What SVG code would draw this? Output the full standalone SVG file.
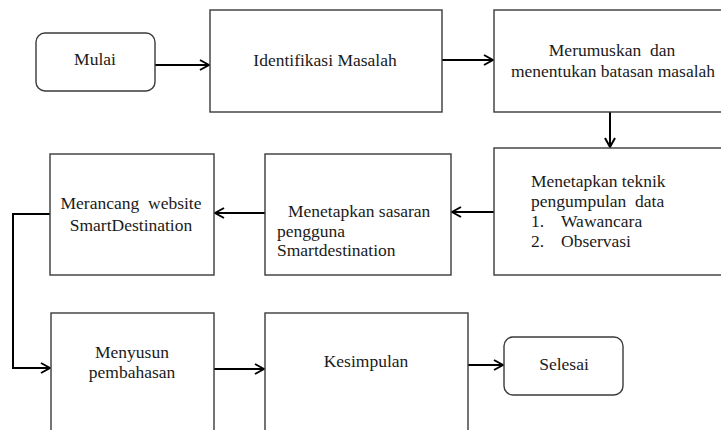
<svg xmlns="http://www.w3.org/2000/svg" width="721" height="430" viewBox="0 0 721 430">
<defs>
<style>
.box{fill:#fff;stroke:#3a3a3a;stroke-width:1.4}
.term{fill:#fff;stroke:#3a3a3a;stroke-width:1.4}
.conn{fill:none;stroke:#000;stroke-width:2}
</style>
<marker id="arr" viewBox="0 0 12 12" refX="11" refY="6" markerWidth="12" markerHeight="12" markerUnits="userSpaceOnUse" orient="auto">
<path d="M2,1 L11,6 L2,11" fill="none" stroke="#000" stroke-width="2"/>
</marker>
</defs>
<rect width="721" height="430" fill="#fff"/>
<g id="connectors">
<line class="conn" x1="155" y1="65" x2="209" y2="65" marker-end="url(#arr)"/>
<line class="conn" x1="442" y1="60" x2="493" y2="60" marker-end="url(#arr)"/>
<line class="conn" x1="610" y1="112" x2="610" y2="147" marker-end="url(#arr)"/>
<line class="conn" x1="494" y1="212" x2="452" y2="212" marker-end="url(#arr)"/>
<line class="conn" x1="265" y1="213" x2="215" y2="213" marker-end="url(#arr)"/>
<polyline class="conn" points="50,214 13,214 13,368 50,368" marker-end="url(#arr)"/>
<line class="conn" x1="214" y1="369" x2="264" y2="369" marker-end="url(#arr)"/>
<line class="conn" x1="468" y1="365" x2="503" y2="365" marker-end="url(#arr)"/>
</g>
<g id="mulai">
<rect class="term" x="36" y="33" width="119" height="58" rx="9"/>
<text x="95" y="65" font-family="Liberation Serif" font-size="17.5" fill="#1a1a1a" text-anchor="middle">Mulai</text>
</g>
<g id="identifikasi">
<rect class="box" x="210" y="10" width="232" height="102"/>
<text x="325" y="66" font-family="Liberation Serif" font-size="17.5" fill="#1a1a1a" text-anchor="middle">Identifikasi Masalah</text>
</g>
<g id="merumuskan">
<rect class="box" x="494" y="10" width="240" height="102"/>
<text x="612" y="56" font-family="Liberation Serif" font-size="17.5" fill="#1a1a1a" text-anchor="middle" xml:space="preserve">Merumuskan  dan</text>
<text x="613" y="77" font-family="Liberation Serif" font-size="17.5" fill="#1a1a1a" text-anchor="middle">menentukan batasan masalah</text>
</g>
<g id="teknik">
<rect class="box" x="494" y="148" width="240" height="127"/>
<text x="531" y="187" font-family="Liberation Serif" font-size="17.5" fill="#1a1a1a">Menetapkan teknik</text>
<text x="531" y="207" font-family="Liberation Serif" font-size="17.5" fill="#1a1a1a" xml:space="preserve">pengumpulan  data</text>
<text x="531" y="227" font-family="Liberation Serif" font-size="17.5" fill="#1a1a1a">1.</text>
<text x="561" y="227" font-family="Liberation Serif" font-size="17.5" fill="#1a1a1a">Wawancara</text>
<text x="531" y="247" font-family="Liberation Serif" font-size="17.5" fill="#1a1a1a">2.</text>
<text x="561" y="247" font-family="Liberation Serif" font-size="17.5" fill="#1a1a1a">Observasi</text>
</g>
<g id="sasaran">
<rect class="box" x="265" y="154" width="186" height="121"/>
<text x="288" y="217" font-family="Liberation Serif" font-size="17.5" fill="#1a1a1a">Menetapkan sasaran</text>
<text x="277" y="237" font-family="Liberation Serif" font-size="17.5" fill="#1a1a1a">pengguna</text>
<text x="277" y="256" font-family="Liberation Serif" font-size="17.5" fill="#1a1a1a">Smartdestination</text>
</g>
<g id="merancang">
<rect class="box" x="50" y="154" width="164" height="121"/>
<text x="131" y="209" font-family="Liberation Serif" font-size="17.5" fill="#1a1a1a" text-anchor="middle" xml:space="preserve">Merancang  website</text>
<text x="131" y="231" font-family="Liberation Serif" font-size="17.5" fill="#1a1a1a" text-anchor="middle">SmartDestination</text>
</g>
<g id="menyusun">
<rect class="box" x="51" y="313" width="163" height="140"/>
<text x="132" y="358" font-family="Liberation Serif" font-size="17.5" fill="#1a1a1a" text-anchor="middle">Menyusun</text>
<text x="132" y="378" font-family="Liberation Serif" font-size="17.5" fill="#1a1a1a" text-anchor="middle">pembahasan</text>
</g>
<g id="kesimpulan">
<rect class="box" x="265" y="313" width="203" height="140"/>
<text x="366" y="367" font-family="Liberation Serif" font-size="17.5" fill="#1a1a1a" text-anchor="middle">Kesimpulan</text>
</g>
<g id="selesai">
<rect class="term" x="504" y="337" width="119" height="58" rx="9"/>
<text x="564" y="370" font-family="Liberation Serif" font-size="17.5" fill="#1a1a1a" text-anchor="middle">Selesai</text>
</g>
</svg>
